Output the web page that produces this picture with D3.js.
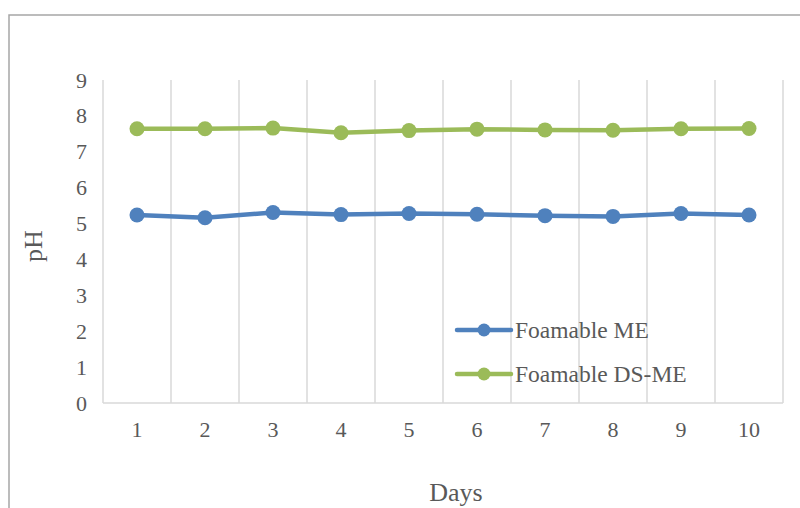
<!DOCTYPE html>
<html><head><meta charset="utf-8">
<script src="https://cdn.jsdelivr.net/npm/d3@7"></script>
<style>body{margin:0;background:#fff}svg{display:block}</style>
</head><body>
<svg id="c" width="800" height="508"></svg>
<script>
const days = ["1","2","3","4","5","6","7","8","9","10"];
const foamableME = [5.24,5.16,5.31,5.25,5.28,5.26,5.22,5.20,5.28,5.24];
const foamableDSME = [7.64,7.64,7.66,7.53,7.59,7.63,7.61,7.60,7.64,7.65];
const yTicks = [0,1,2,3,4,5,6,7,8,9];
const seriesNames = ["Foamable ME","Foamable DS-ME"];
const colors = ["#4f81bd","#9bbb59"];

const svg = d3.select("#c");
const font = "'Liberation Serif','Times New Roman',serif";
const textColor = "#595959";
const m = {l:103, r:783, t:80, b:403};

// outer border
svg.append("path").attr("d","M9,508 V15 H800").attr("fill","none").attr("stroke","#a6a6a6").attr("stroke-width",1.5);

const x = d3.scaleBand().domain(days).range([m.l,m.r]);
const y = d3.scaleLinear().domain([0,9]).range([m.b,m.t]);

// vertical gridlines at band boundaries
const bounds = days.map(d=>x(d)).concat([x(days[days.length-1])+x.bandwidth()]);
svg.append("g").selectAll("line").data(bounds).join("line")
  .attr("x1",d=>d).attr("x2",d=>d).attr("y1",m.t).attr("y2",m.b)
  .attr("stroke","#d9d9d9").attr("stroke-width",1.5);

// bottom axis line
svg.append("line").attr("x1",m.l).attr("x2",m.r).attr("y1",m.b).attr("y2",m.b)
  .attr("stroke","#d9d9d9").attr("stroke-width",1.5);

// y axis labels
const ya = svg.append("g").attr("transform",`translate(${m.l-16},0)`)
  .call(d3.axisLeft(y).tickValues(yTicks).tickSize(0).tickPadding(0));
ya.select(".domain").remove();
ya.selectAll("text").attr("font-family",font).attr("font-size",22).attr("fill",textColor);

// x axis labels
const xa = svg.append("g").attr("transform",`translate(0,${m.b+18})`)
  .call(d3.axisBottom(x).tickSize(0).tickPadding(0));
xa.select(".domain").remove();
xa.selectAll("text").attr("font-family",font).attr("font-size",22).attr("fill",textColor);

// axis titles
svg.append("text").attr("x",456).attr("y",501).attr("text-anchor","middle")
  .attr("font-family",font).attr("font-size",26).attr("fill",textColor).text("Days");
svg.append("text").attr("transform","translate(42,246) rotate(-90)").attr("text-anchor","middle")
  .attr("font-family",font).attr("font-size",26).attr("fill",textColor).text("pH");

const data = [foamableME, foamableDSME];
const line = d3.line().x((d,i)=>x(days[i])+x.bandwidth()/2).y(d=>y(d));
data.forEach((s,k)=>{
  const g = svg.append("g");
  g.append("path").datum(s).attr("d",line).attr("fill","none")
    .attr("stroke",colors[k]).attr("stroke-width",4.5).attr("stroke-linejoin","round");
  g.selectAll("circle").data(s).join("circle")
    .attr("cx",(d,i)=>x(days[i])+x.bandwidth()/2).attr("cy",d=>y(d)).attr("r",7.5)
    .attr("fill",colors[k]);
});

// legend
const lg = svg.append("g");
seriesNames.forEach((n,k)=>{
  const yy = 330 + k*44;
  lg.append("line").attr("x1",457).attr("x2",511).attr("y1",yy).attr("y2",yy)
    .attr("stroke",colors[k]).attr("stroke-width",4.5).attr("stroke-linecap","round");
  lg.append("circle").attr("cx",484).attr("cy",yy).attr("r",6.5).attr("fill",colors[k]);
  lg.append("text").attr("x",515).attr("y",yy+8).attr("font-family",font).attr("font-size",23.5)
    .attr("fill",textColor).text(n);
});
</script>
</body></html>
